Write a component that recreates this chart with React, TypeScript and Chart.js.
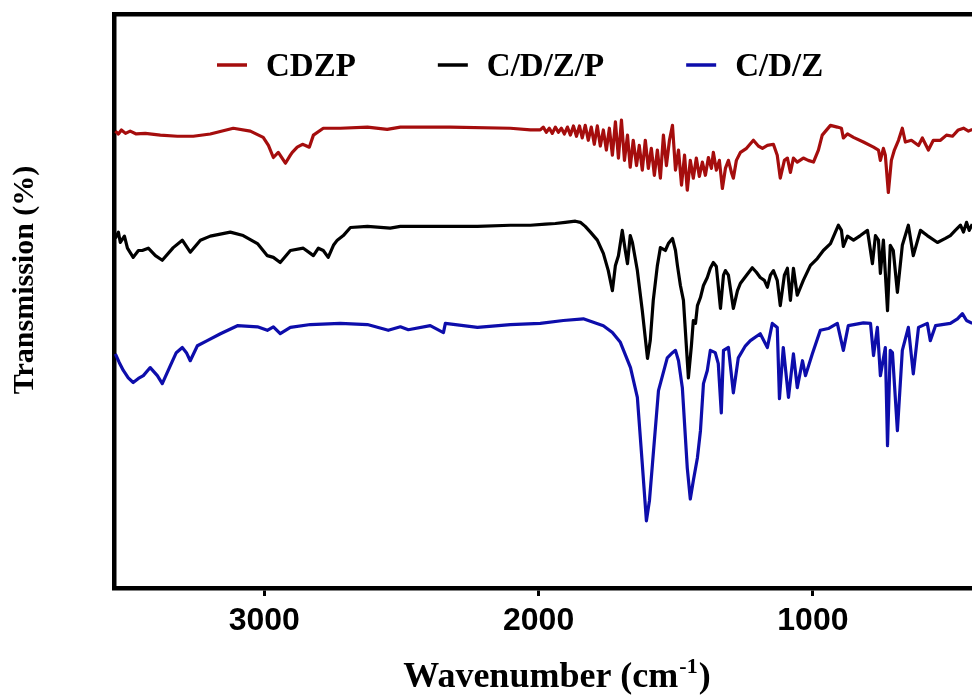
import React, { useEffect, useRef } from "react";
import { Chart, registerables } from "chart.js";

Chart.register(...registerables);

// ---------- data ----------
const seriesNames = ["CDZP", "C/D/Z/P", "C/D/Z"];
const seriesColors = ["#a50d0d", "#000000", "#0d0dab"];

const xTickValues = [3000, 2000, 1000];
const xMaxWavenumber = 3548;
const xMinWavenumber = 420;
const yMin = 0;
const yMax = 100;

const xTitleMain = "Wavenumber (cm";
const xTitleSup = "-1";
const xTitleEnd = ")";
const yTitle = "Transmission (%)";

// CDZP (red)
const cdzpWavenumber = [
  3543, 3532, 3521, 3506, 3489, 3467, 3434, 3379, 3317, 3259, 3197, 3113, 3051, 3004, 2985, 2967, 2949, 2923, 2905, 2898,
  2880, 2861, 2850, 2836, 2821, 2785, 2723, 2624, 2552, 2504, 2322, 2103, 2030, 1994, 1983, 1972, 1961, 1950, 1939, 1928,
  1917, 1906, 1895, 1884, 1873, 1862, 1851, 1841, 1830, 1819, 1808, 1797, 1786, 1775, 1764, 1753, 1742, 1731, 1720, 1709,
  1698, 1687, 1676, 1666, 1655, 1643, 1633, 1622, 1611, 1600, 1589, 1578, 1567, 1556, 1545, 1534, 1523, 1512, 1501, 1490,
  1479, 1468, 1458, 1447, 1436, 1425, 1414, 1403, 1392, 1381, 1370, 1363, 1352, 1341, 1330, 1319, 1308, 1297, 1290, 1279,
  1264, 1242, 1217, 1199, 1184, 1166, 1144, 1130, 1119, 1104, 1093, 1082, 1071, 1057, 1035, 1017, 998, 980, 966, 936,
  911, 896, 889, 874, 852, 816, 779, 761, 754, 743, 736, 725, 714, 703, 688, 674, 663, 641, 615, 601,
  579, 561, 535, 513, 491, 470, 451, 433, 419,
];
const cdzpTransmission = [
  79.6, 79.1, 79.8, 79.2, 79.6, 79.1, 79.2, 78.9, 78.7, 78.7, 79.1, 80.1, 79.6, 78.5, 77.1, 75.0, 75.9, 74.0, 75.4, 75.9,
  76.8, 77.3, 77.1, 76.8, 78.9, 80.1, 80.1, 80.3, 79.9, 80.3, 80.3, 80.1, 79.8, 79.8, 80.3, 79.4, 80.1, 79.2, 80.3, 79.4,
  80.1, 79.1, 80.3, 78.9, 80.5, 78.7, 80.5, 78.4, 80.6, 78.0, 80.3, 77.3, 80.5, 77.0, 79.8, 76.3, 80.1, 75.4, 81.2, 74.9,
  81.5, 74.5, 78.9, 73.3, 78.0, 73.6, 77.1, 72.8, 78.0, 73.1, 76.6, 71.9, 76.3, 71.4, 78.9, 73.6, 78.0, 80.6, 72.8, 76.3,
  70.2, 75.4, 69.3, 74.5, 71.4, 74.9, 71.7, 74.2, 71.9, 75.0, 73.1, 75.9, 72.8, 74.5, 69.6, 73.1, 74.5, 72.4, 71.4, 74.5,
  75.9, 76.6, 78.0, 77.0, 76.6, 77.1, 77.3, 75.4, 71.4, 74.5, 74.9, 72.4, 74.9, 74.2, 74.9, 74.5, 74.2, 76.3, 78.9, 80.6,
  80.3, 80.1, 78.4, 79.1, 78.5, 77.7, 76.8, 76.3, 74.5, 76.6, 75.4, 68.9, 74.5, 76.3, 78.0, 80.1, 77.7, 78.0, 77.1, 78.4,
  76.3, 78.0, 78.0, 78.9, 78.7, 79.8, 80.1, 79.6, 79.9,
];

// C/D/Z/P (black)
const cdzpSlashWavenumber = [
  3543, 3532, 3525, 3510, 3499, 3478, 3459, 3445, 3423, 3397, 3372, 3332, 3299, 3270, 3233, 3197, 3124, 3077, 3025, 2989,
  2967, 2942, 2905, 2858, 2832, 2821, 2803, 2785, 2767, 2748, 2734, 2712, 2686, 2624, 2541, 2504, 2395, 2223, 2103, 2030,
  1975, 1939, 1903, 1866, 1848, 1830, 1811, 1786, 1764, 1746, 1731, 1720, 1709, 1695, 1684, 1676, 1666, 1658, 1640, 1622,
  1603, 1593, 1582, 1567, 1556, 1538, 1527, 1512, 1501, 1494, 1483, 1472, 1454, 1443, 1436, 1428, 1421, 1410, 1399, 1385,
  1374, 1363, 1352, 1337, 1326, 1319, 1308, 1290, 1275, 1264, 1242, 1221, 1206, 1192, 1177, 1166, 1155, 1144, 1130, 1119,
  1104, 1093, 1082, 1071, 1057, 1035, 1009, 984, 962, 936, 918, 907, 896, 889, 874, 852, 827, 801, 783, 772,
  761, 754, 743, 728, 718, 707, 692, 674, 652, 634, 608, 583, 546, 517, 499, 481, 462, 451, 440, 430,
  419,
];
const cdzpSlashTransmission = [
  60.9, 62.0, 60.2, 61.3, 59.2, 57.6, 58.8, 58.8, 59.2, 57.9, 57.1, 59.3, 60.6, 58.5, 60.6, 61.3, 62.0, 61.4, 60.0, 57.9,
  57.6, 56.7, 58.8, 59.2, 58.3, 57.9, 59.2, 58.8, 57.6, 59.7, 60.6, 61.4, 62.8, 63.0, 62.7, 63.0, 63.0, 63.0, 63.2, 63.2,
  63.4, 63.5, 63.7, 63.9, 63.7, 63.0, 62.0, 60.6, 58.3, 55.3, 51.8, 56.2, 57.9, 62.3, 58.8, 56.5, 61.4, 60.2, 55.3, 48.3,
  40.0, 43.1, 50.1, 56.2, 59.3, 58.8, 60.0, 60.9, 58.8, 56.2, 52.7, 50.1, 36.6, 42.2, 46.6, 46.1, 49.2, 50.6, 52.7, 54.1,
  55.7, 56.7, 56.0, 48.7, 54.5, 55.3, 54.5, 48.7, 51.8, 53.1, 54.5, 55.8, 55.0, 54.1, 53.6, 52.4, 54.5, 55.3, 53.6, 49.2,
  54.5, 55.7, 50.1, 55.7, 51.0, 53.6, 56.2, 57.4, 58.8, 60.0, 62.0, 63.2, 62.3, 59.5, 61.3, 60.6, 61.4, 62.3, 56.5, 61.4,
  60.6, 54.8, 60.6, 48.3, 59.7, 58.8, 51.5, 59.7, 63.2, 57.9, 62.3, 61.4, 60.2, 60.9, 61.4, 62.3, 63.2, 62.0, 63.7, 62.3,
  63.4,
];

// C/D/Z (blue)
const cdzWavenumber = [
  3543, 3529, 3514, 3496, 3478, 3459, 3441, 3416, 3390, 3372, 3343, 3321, 3299, 3284, 3270, 3244, 3208, 3160, 3098, 3025,
  2989, 2967, 2942, 2905, 2832, 2723, 2624, 2548, 2504, 2475, 2395, 2347, 2340, 2223, 2103, 1994, 1910, 1837, 1764, 1731,
  1702, 1665, 1640, 1622, 1607, 1596, 1585, 1563, 1531, 1512, 1501, 1490, 1476, 1458, 1447, 1436, 1421, 1410, 1399, 1385,
  1374, 1356, 1345, 1334, 1326, 1308, 1290, 1272, 1246, 1228, 1192, 1166, 1148, 1130, 1122, 1108, 1089, 1071, 1057, 1038,
  1027, 1002, 973, 944, 911, 889, 871, 816, 790, 779, 765, 754, 736, 728, 718, 710, 692, 674, 652, 634,
  615, 583, 572, 553, 499, 473, 455, 440, 419,
];
const cdzTransmission = [
  40.8, 39.3, 37.9, 36.6, 35.8, 36.5, 37.0, 38.4, 37.0, 35.6, 38.7, 41.0, 41.9, 41.0, 39.6, 42.2, 43.1, 44.3, 45.7, 45.5,
  44.9, 45.5, 44.3, 45.4, 45.9, 46.1, 45.9, 44.9, 45.5, 45.0, 45.7, 44.5, 46.1, 45.4, 45.9, 46.1, 46.6, 46.9, 45.7, 44.5,
  42.8, 38.4, 33.2, 21.6, 11.7, 15.2, 21.6, 34.4, 40.1, 41.0, 41.4, 39.6, 34.9, 20.9, 15.5, 18.7, 22.7, 27.4, 35.6, 37.9,
  41.4, 41.0, 39.1, 30.5, 41.4, 41.9, 34.0, 40.1, 42.2, 43.1, 44.3, 41.9, 46.1, 45.4, 33.0, 41.9, 33.2, 40.8, 34.9, 39.6,
  37.0, 40.8, 44.9, 45.2, 46.1, 41.4, 45.7, 46.2, 46.1, 40.5, 45.4, 37.0, 41.9, 24.8, 41.4, 41.0, 27.4, 41.4, 45.4, 37.3,
  45.4, 46.1, 43.1, 45.7, 46.1, 46.9, 47.8, 46.6, 46.1,
];

const seriesWavenumbers = [cdzpWavenumber, cdzpSlashWavenumber, cdzWavenumber];
const seriesTransmissions = [cdzpTransmission, cdzpSlashTransmission, cdzTransmission];

const SERIF = "'Liberation Serif', 'Times New Roman', serif";
const SANS = "'Liberation Sans', Arial, sans-serif";

const overlayPlugin = {
  id: "overlay",
  afterDraw(chart: any) {
    const { ctx, chartArea } = chart;
    ctx.save();

    // legend inside plot area
    ctx.font = `bold 33px ${SERIF}`;
    ctx.textBaseline = "middle";
    ctx.textAlign = "left";
    let x = chartArea.left + 103;
    const y = chartArea.top + 51;
    chart.data.datasets.forEach((ds: any) => {
      ctx.strokeStyle = ds.borderColor;
      ctx.lineWidth = 3.5;
      ctx.beginPath();
      ctx.moveTo(x, y);
      ctx.lineTo(x + 30, y);
      ctx.stroke();
      x += 30 + 19;
      ctx.fillStyle = "#000";
      ctx.fillText(ds.label, x, y + 2);
      x += ctx.measureText(ds.label).width + 82;
    });

    // y title
    ctx.save();
    ctx.translate(25, 280);
    ctx.rotate(-Math.PI / 2);
    ctx.font = `bold 30px ${SERIF}`;
    ctx.textAlign = "center";
    ctx.textBaseline = "middle";
    ctx.fillStyle = "#000";
    ctx.fillText(yTitle, 0, 0);
    ctx.restore();

    // x title with superscript
    ctx.fillStyle = "#000";
    ctx.textBaseline = "alphabetic";
    ctx.textAlign = "left";
    const mainFont = `bold 36px ${SERIF}`;
    const supFont = `bold 22px ${SERIF}`;
    ctx.font = mainFont;
    const wMain = ctx.measureText(xTitleMain).width;
    const wEnd = ctx.measureText(xTitleEnd).width;
    ctx.font = supFont;
    const wSup = ctx.measureText(xTitleSup).width;
    const total = wMain + wSup + wEnd + 2;
    const cx = (chartArea.left + chartArea.right) / 2 + 14;
    let tx = cx - total / 2;
    const baseY = 687;
    ctx.font = mainFont;
    ctx.fillText(xTitleMain, tx, baseY);
    tx += wMain + 1;
    ctx.font = supFont;
    ctx.fillText(xTitleSup, tx, baseY - 14);
    tx += wSup + 1;
    ctx.font = mainFont;
    ctx.fillText(xTitleEnd, tx, baseY);

    ctx.restore();
  },
};

export default function App() {
  const canvasRef = useRef<HTMLCanvasElement | null>(null);

  useEffect(() => {
    if (!canvasRef.current) return;
    const datasets = seriesNames.map((name, i) => ({
      label: name,
      data: seriesWavenumbers[i].map((w, j) => ({ x: w, y: seriesTransmissions[i][j] })),
      borderColor: seriesColors[i],
      backgroundColor: seriesColors[i],
      borderWidth: 3.2,
      pointRadius: 0,
      tension: 0,
      borderJoinStyle: "round" as const,
      fill: false,
    }));

    const chart = new Chart(canvasRef.current, {
      type: "line",
      data: { datasets },
      plugins: [overlayPlugin],
      options: {
        animation: false,
        responsive: false,
        maintainAspectRatio: false,
        layout: { padding: { top: 14, right: 0, bottom: 0, left: 0 } },
        plugins: {
          legend: { display: false },
          tooltip: { enabled: false },
        },
        scales: {
          x: {
            type: "linear",
            reverse: true,
            min: xMinWavenumber,
            max: xMaxWavenumber,
            afterBuildTicks: (scale: any) => {
              scale.ticks = xTickValues.map((v) => ({ value: v }));
            },
            afterFit: (scale: any) => {
              scale.height = 107;
            },
            ticks: {
              color: "#000",
              font: { family: SANS, size: 32, weight: "bold" },
              padding: 6,
              maxRotation: 0,
              autoSkip: false,
              callback: (v: any) => String(v),
            },
            grid: {
              display: true,
              drawOnChartArea: false,
              drawTicks: true,
              tickLength: 8,
              lineWidth: 3,
              color: "#000",
            },
            border: { display: true, width: 4.5, color: "#000" },
          },
          xTop: {
            type: "linear",
            position: "top",
            reverse: true,
            min: xMinWavenumber,
            max: xMaxWavenumber,
            afterFit: (scale: any) => {
              scale.height = 0;
            },
            ticks: { display: false },
            grid: { display: false, drawTicks: false },
            border: { display: true, width: 4.5, color: "#000" },
          },
          y: {
            type: "linear",
            min: yMin,
            max: yMax,
            afterFit: (scale: any) => {
              scale.width = 114;
            },
            ticks: { display: false },
            grid: { display: false, drawTicks: false },
            border: { display: true, width: 4.5, color: "#000" },
          },
        },
      },
    });
    return () => chart.destroy();
  }, []);

  return (
    <div style={{ position: "absolute", left: 0, top: 0, width: 972, height: 695, background: "#fff" }}>
      <canvas ref={canvasRef} width={972} height={695} style={{ display: "block" }} />
    </div>
  );
}
